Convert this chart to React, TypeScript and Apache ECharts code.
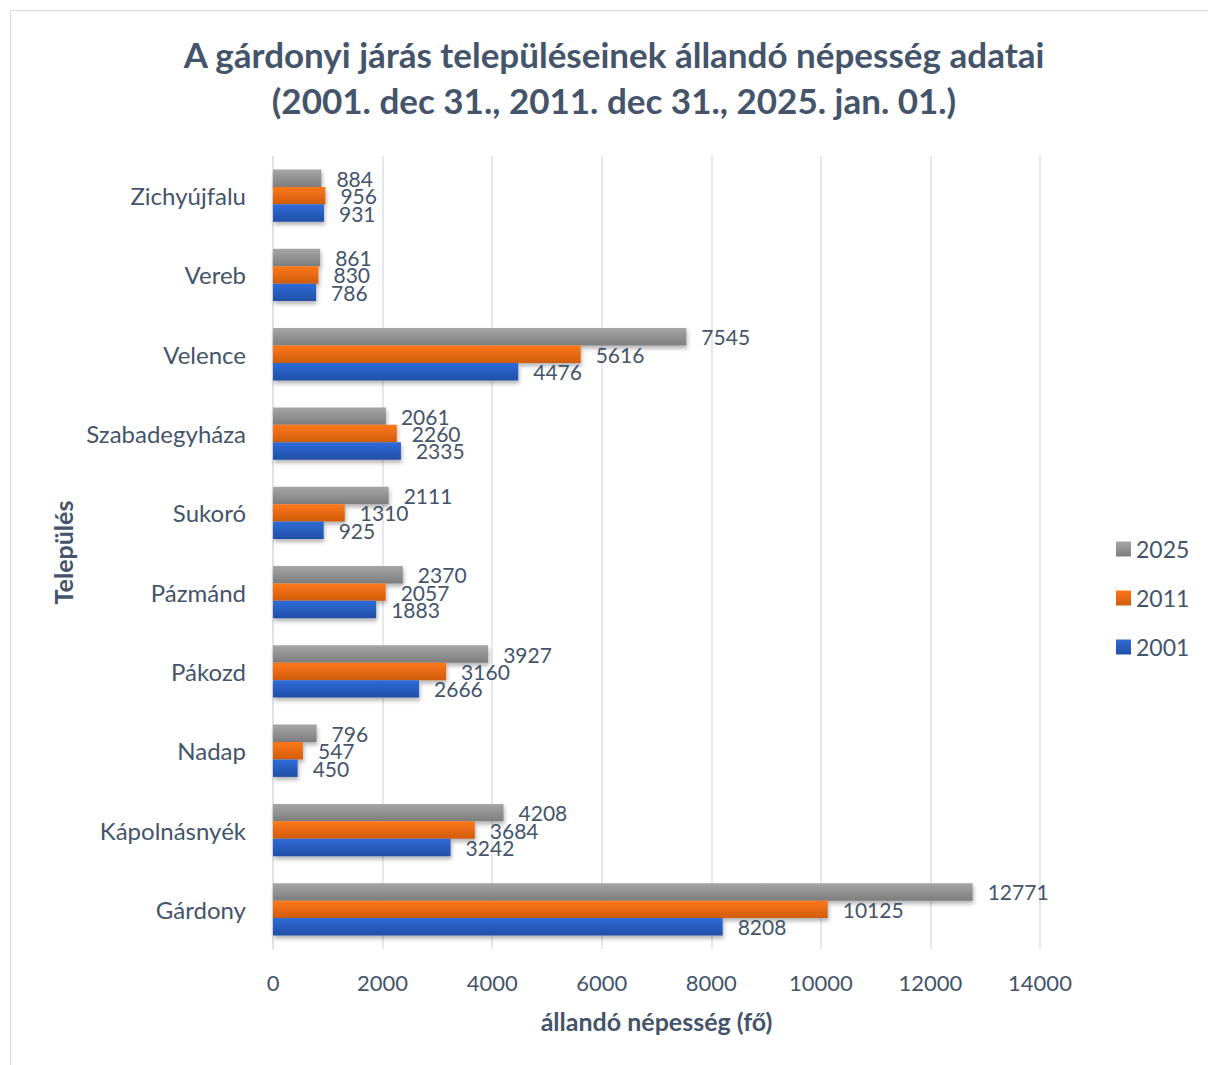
import React, { useEffect, useRef } from "react";
import * as echarts from "echarts";

const categories = ["Gárdony", "Kápolnásnyék", "Nadap", "Pákozd", "Pázmánd", "Sukoró", "Szabadegyháza", "Velence", "Vereb", "Zichyújfalu"];
const values2025 = [12771, 4208, 796, 3927, 2370, 2111, 2061, 7545, 861, 884];
const values2011 = [10125, 3684, 547, 3160, 2057, 1310, 2260, 5616, 830, 956];
const values2001 = [8208, 3242, 450, 2666, 1883, 925, 2335, 4476, 786, 931];
const seriesNames = ["2025", "2011", "2001"];
const titleText = "A gárdonyi járás településeinek állandó népesség adatai\n(2001. dec 31., 2011. dec 31., 2025. jan. 01.)";

const TEXT = "#44546a";
const FONT = "Lato, 'Open Sans', sans-serif";

function grad(top: string, bottom: string) {
  return new echarts.graphic.LinearGradient(0, 0, 0, 1, [
    { offset: 0, color: top },
    { offset: 1, color: bottom },
  ]);
}

export default function App() {
  const ref = useRef<HTMLDivElement>(null);
  useEffect(() => {
    document.body.style.margin = "0";
    if (!ref.current) return;
    const chart = echarts.init(ref.current, undefined, { renderer: "svg" });
    const colors = [
      grad("#a6a6a6", "#7d7d7d"),
      grad("#ff771a", "#cf5c0c"),
      grad("#2f6bd8", "#214fa6"),
    ];
    const data = [values2025, values2011, values2001];
    chart.setOption({
      animation: false,
      backgroundColor: "#ffffff",
      textStyle: { fontFamily: FONT },
      title: {
        text: titleText,
        left: 614,
        textAlign: "center",
        top: 31,
        padding: 0,
        textStyle: { fontFamily: FONT, fontSize: 35, fontWeight: "bold", color: TEXT, lineHeight: 46 },
      },
      graphic: [
        {
          type: "rect",
          shape: { x: 10.5, y: 10.5, width: 1300, height: 1200 },
          style: { fill: "none", stroke: "#d9d9d9", lineWidth: 1 },
          silent: true,
        },
      ],
      legend: {
        orient: "vertical",
        left: 1116,
        top: 536,
        padding: 0,
        data: seriesNames,
        icon: "rect",
        itemWidth: 15,
        itemHeight: 15,
        itemGap: 23,
        textStyle: { fontFamily: FONT, fontSize: 23, color: TEXT, lineHeight: 26 },
      },
      grid: { left: 273, right: 168, top: 156, bottom: 116, containLabel: false },
      xAxis: {
        type: "value",
        min: 0,
        max: 14000,
        interval: 2000,
        name: "állandó népesség (fő)",
        nameLocation: "middle",
        nameGap: 59,
        nameTextStyle: { fontFamily: FONT, fontSize: 25, fontWeight: "bold", color: TEXT },
        axisLine: { show: false },
        axisTick: { show: false },
        axisLabel: { fontFamily: FONT, fontSize: 22, color: TEXT, margin: 22, formatter: (v: number) => String(v) },
        splitLine: { show: true, lineStyle: { color: "#dde1e6", width: 1.5 } },
      },
      yAxis: {
        type: "category",
        data: categories,
        name: "Település",
        nameLocation: "middle",
        nameGap: 198,
        nameTextStyle: { fontFamily: FONT, fontSize: 25, fontWeight: "bold", color: TEXT },
        axisLine: { show: true, lineStyle: { color: "#dde1e6", width: 1.5 } },
        axisTick: { show: false },
        axisLabel: { fontFamily: FONT, fontSize: 24, color: TEXT, margin: 27, padding: [0, 0, 6, 0] },
      },
      series: seriesNames.map((name, i) => ({
        name,
        type: "bar",
        data: data[i],
        barGap: "0%",
        barCategoryGap: "34%",
        itemStyle: {
          color: colors[i],
          shadowBlur: 4,
          shadowOffsetX: 1,
          shadowOffsetY: 3,
          shadowColor: "rgba(0,0,0,0.3)",
        },
        label: {
          show: true,
          position: "right",
          distance: 15,
          fontFamily: FONT,
          fontSize: 21,
          color: TEXT,
        },
      })),
    });
    return () => chart.dispose();
  }, []);
  return <div ref={ref} style={{ width: 1208, height: 1065 }} />;
}
